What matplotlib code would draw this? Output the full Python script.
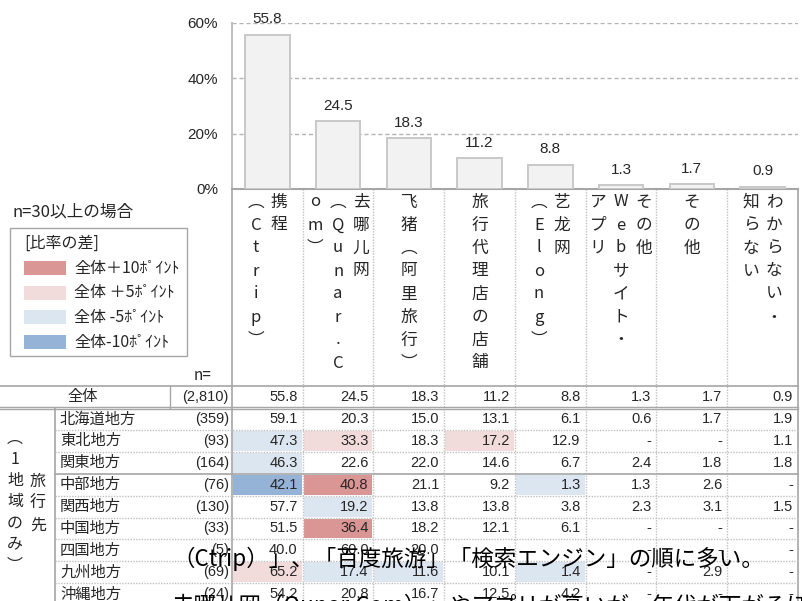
import matplotlib
matplotlib.use('Agg')
import matplotlib.pyplot as plt
from matplotlib.patches import Rectangle

plt.rcParams['font.family'] = ['Noto Sans CJK JP', 'DejaVu Sans']

# ---- data ----
categories = ['携程(Ctrip)', '去哪儿网(Qunar.Com)', '飞猪(阿里旅行)', '旅行代理店の店舗',
              '艺龙网(Elong)', 'その他Webサイト・アプリ', 'その他', 'わからない・知らない']
# vertical header text, one string per column of text (right to left)
header_lines = [['携程', '︵Ctrip︶'],
                ['去哪儿网', '︵Qunar.C', 'om︶'],
                ['飞猪︵阿里旅行︶'],
                ['旅行代理店の店舗'],
                ['艺龙网', '︵Elong︶'],
                ['その他', 'Webサイト・', 'アプリ'],
                ['その他'],
                ['わからない・', '知らない']]
overall = [55.8, 24.5, 18.3, 11.2, 8.8, 1.3, 1.7, 0.9]
overall_n = 2810
regions = ['北海道地方', '東北地方', '関東地方', '中部地方', '関西地方',
           '中国地方', '四国地方', '九州地方', '沖縄地方']
region_n = [359, 93, 164, 76, 130, 33, 5, 69, 24]
region_values = [
    [59.1, 20.3, 15.0, 13.1, 6.1, 0.6, 1.7, 1.9],
    [47.3, 33.3, 18.3, 17.2, 12.9, None, None, 1.1],
    [46.3, 22.6, 22.0, 14.6, 6.7, 2.4, 1.8, 1.8],
    [42.1, 40.8, 21.1, 9.2, 1.3, 1.3, 2.6, None],
    [57.7, 19.2, 13.8, 13.8, 3.8, 2.3, 3.1, 1.5],
    [51.5, 36.4, 18.2, 12.1, 6.1, None, None, None],
    [40.0, 60.0, 20.0, None, None, None, None, None],
    [65.2, 17.4, 11.6, 10.1, 1.4, None, 2.9, None],
    [54.2, 20.8, 16.7, 12.5, 4.2, None, None, None],
]
legend_labels = ['全体＋10ﾎﾟｲﾝﾄ', '全体 ＋5ﾎﾟｲﾝﾄ', '全体 -5ﾎﾟｲﾝﾄ', '全体-10ﾎﾟｲﾝﾄ']
overlay_lines = ['（Ctrip）」、「百度旅游」「検索エンジン」の順に多い。',
                 '去哪儿网（Qunar.Com）」やアプリが高いが、年代が下がるほど']

# ---- style ----
C_UP10, C_UP5, C_DN5, C_DN10 = '#d99694', '#f2dcdb', '#dce6f1', '#95b3d7'
legend_colors = [C_UP10, C_UP5, C_DN5, C_DN10]
LINE = '#a6a6a6'
DOT = '#c0c0c0'
TXT = '#262626'
NUM_FONT = ['Liberation Sans', 'DejaVu Sans']

W, H = 803, 601
fig = plt.figure(figsize=(W / 100, H / 100), dpi=100)

# full-figure pixel axes for the table part
tab = fig.add_axes([0, 0, 1, 1])
tab.set_xlim(0, W)
tab.set_ylim(H, 0)
tab.axis('off')

x0, x1 = 232, 798
col_w = (x1 - x0) / len(categories)
y_axis = 189
y_tab = 386
y_all = 408
row_h = 21.9

# ---- bar chart ----
ax = fig.add_axes([x0 / W, 1 - y_axis / H, (x1 - x0) / W, (y_axis - 23) / H])
xs = range(len(categories))
ax.bar(xs, overall, width=0.63, color='#f2f2f2', edgecolor='#c8c8c8', linewidth=1.4, zorder=3)
for x, v in zip(xs, overall):
    ax.annotate(f'{v:.1f}', (x, v), xytext=(0, 6), textcoords='offset points',
                ha='center', va='bottom', fontsize=11, family=NUM_FONT, color=TXT)
ax.set_xlim(-0.5, len(categories) - 0.5)
ax.set_ylim(0, 60)
ax.set_yticks([0, 20, 40, 60])
ax.set_yticklabels(['0%', '20%', '40%', '60%'], family=NUM_FONT, fontsize=11, color=TXT)
ax.tick_params(axis='y', length=0, pad=10)
ax.set_xticks([])
ax.grid(axis='y', linestyle=(0, (3, 2)), color='#b4b4b4', linewidth=1, zorder=0)
for s in ['top', 'right']:
    ax.spines[s].set_visible(False)
ax.spines['left'].set_color('#bfbfbf')
ax.spines['left'].set_linewidth(1.5)
ax.spines['bottom'].set_color('#a6a6a6')
ax.spines['bottom'].set_linewidth(1.5)
ax.patch.set_alpha(0)

# ---- vertical header text ----
step = 23
for j, lines in enumerate(header_lines):
    cx = x0 + (j + 0.5) * col_w
    n = len(lines)
    for i, line in enumerate(lines):
        lx = cx + (n - 1) / 2 * step - i * step
        for k, ch in enumerate(line):
            tab.text(lx, 202 + k * step, ch, ha='center', va='center', fontsize=12, color=TXT)

# header column lines
for j in range(1, len(categories)):
    xx = x0 + j * col_w
    tab.plot([xx, xx], [y_axis, H], color=DOT, lw=1, ls=(0, (1, 1)))
tab.plot([x0, x0], [y_axis, H], color=LINE, lw=1.2)
tab.plot([x1, x1], [y_axis, H], color=LINE, lw=1.2)

# ---- left info + legend ----
tab.text(13, 212, 'n=30以上の場合', ha='left', va='center', fontsize=12, color=TXT)
tab.add_patch(Rectangle((10, 228), 177, 128, fill=False, edgecolor=LINE, lw=1))
tab.text(24, 243, '[比率の差]', ha='left', va='center', fontsize=11.5, color=TXT)
for i, (lab, c) in enumerate(zip(legend_labels, legend_colors)):
    yy = 268 + i * 24.7
    tab.add_patch(Rectangle((24, yy - 7), 42, 14, facecolor=c, edgecolor='none'))
    tab.text(74, yy, lab, ha='left', va='center', fontsize=11.5, color=TXT)
tab.text(203, 375, 'n=', ha='center', va='center', fontsize=11, color=TXT)


def fmt(v):
    return '-' if v is None else f'{v:.1f}'


def shade(v, base, n):
    if v is None or n < 30:
        return None
    d = round(v - base, 1)
    if d >= 10:
        return C_UP10
    if d > 5:
        return C_UP5
    if d <= -10:
        return C_DN10
    if d < -5:
        return C_DN5
    return None


# ---- overall row ----
yc = (y_tab + y_all) / 2
tab.text(83, yc, '全体', ha='center', va='center', fontsize=11, color=TXT)
tab.text(229, yc, f'({overall_n:,})', ha='right', va='center', fontsize=10.5, family=NUM_FONT, color=TXT)
for j, v in enumerate(overall):
    tab.text(x0 + (j + 1) * col_w - 5, yc, fmt(v), ha='right', va='center', fontsize=10.5,
             family=NUM_FONT, color=TXT)

# ---- region rows ----
for r, (name, n, vals) in enumerate(zip(regions, region_n, region_values)):
    top = y_all + r * row_h
    yc = top + row_h / 2
    for j, v in enumerate(vals):
        c = shade(v, overall[j], n)
        if c:
            tab.add_patch(Rectangle((x0 + j * col_w + 1, top + 1), col_w - 2, row_h - 2,
                                    facecolor=c, edgecolor='none', zorder=0))
        tab.text(x0 + (j + 1) * col_w - 5, yc, fmt(v), ha='right', va='center', fontsize=10.5,
                 family=NUM_FONT, color=TXT)
    tab.text(60, yc, name, ha='left', va='center', fontsize=11, color=TXT)
    tab.text(229, yc, f'({n})', ha='right', va='center', fontsize=10.5, family=NUM_FONT, color=TXT)
    if r > 0:
        if r == 3:
            tab.plot([55, x1], [top, top], color=LINE, lw=1.2)
        else:
            tab.plot([55, x1], [top, top], color=DOT, lw=1, ls=(0, (1, 1)))

# table frame lines
tab.plot([0, x1], [y_tab, y_tab], color=LINE, lw=1.2)
tab.plot([0, x1], [y_all - 1.5, y_all - 1.5], color=LINE, lw=1)
tab.plot([0, x1], [y_all + 1.2, y_all + 1.2], color=LINE, lw=1)
tab.plot([170, 170], [y_tab, y_all], color=LINE, lw=1)
tab.plot([55, 55], [y_all, H], color=LINE, lw=1.2)

# group label, written vertically
for k, ch in enumerate('︵1地域のみ︶'):
    tab.text(15, 438 + k * 21.3, ch, ha='center', va='center', fontsize=11.5, color=TXT)
for k, ch in enumerate('旅行先'):
    tab.text(38, 481 + k * 22, ch, ha='center', va='center', fontsize=11.5, color=TXT)

# ---- overlapping caption text ----
for i, line in enumerate(overlay_lines):
    fig.text(172 / W, 1 - (559 + i * 47) / H, line, ha='left', va='center', fontsize=16.2,
             color='black', zorder=10)

fig.savefig('out.png', dpi=100)
